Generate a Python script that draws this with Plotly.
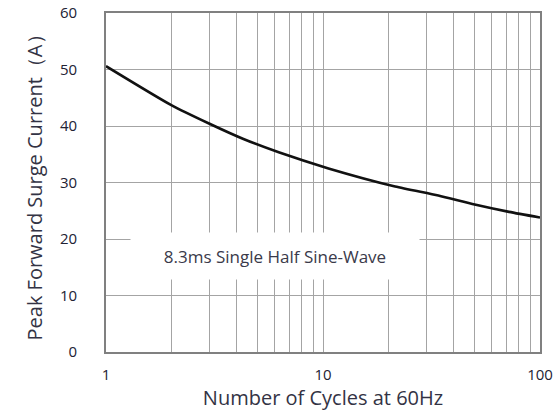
import plotly.graph_objects as go

cycles = [1, 2, 3, 4.3, 6.3, 10.6, 21.5, 34, 50, 72, 100]
current = [50.6, 43.7, 40.4, 37.7, 35.3, 32.5, 29.3, 27.7, 26.1, 24.8, 23.8]

x_grid = [1, 2, 3, 4, 5, 6, 7, 8, 9, 10, 20, 30, 40, 50, 60, 70, 80, 90, 100]
x_labels = ["1", "", "", "", "", "", "", "", "", "10", "", "", "", "", "", "", "", "", "100"]
y_ticks = [0, 10, 20, 30, 40, 50, 60]

fig = go.Figure()
fig.add_trace(go.Scatter(x=cycles, y=current, mode="lines",
                         line=dict(color="#111111", width=2.6, shape="spline", smoothing=0.6),
                         showlegend=False, hoverinfo="skip"))

fig.add_annotation(text="8.3ms Single Half Sine-Wave", xref="paper", yref="paper",
                   x=0.389, y=0.212, showarrow=False, bgcolor="white",
                   width=286, height=44, align="center",
                   font=dict(family="Open Sans", size=17, color="#3a3a4a"))

fig.update_layout(
    width=554, height=415,
    margin=dict(l=106, r=14, t=13, b=63),
    paper_bgcolor="white", plot_bgcolor="white",
    font=dict(family="Open Sans", color="#333333"),
)
fig.update_xaxes(type="log", range=[0, 2], tickvals=x_grid, ticktext=x_labels,
                 showgrid=True, gridcolor="#a4a4a4", gridwidth=1.4,
                 showline=True, linecolor="#808080", linewidth=1.8, mirror=True,
                 ticks="", ticklabelstandoff=8, zeroline=False, automargin=False,
                 tickfont=dict(size=15, color="#222233"),
                 title=dict(text="Number of Cycles at 60Hz", font=dict(size=20, color="#333344"), standoff=2))
fig.update_yaxes(range=[0, 60], tickvals=y_ticks,
                 showgrid=True, gridcolor="#a4a4a4", gridwidth=1.4,
                 showline=True, linecolor="#808080", linewidth=1.8, mirror=True,
                 ticks="", ticklabelstandoff=24, zeroline=False, automargin=False,
                 tickfont=dict(size=15, color="#222233"),
                 title=dict(text="Peak Forward Surge Current（A）", font=dict(size=20, color="#333344"), standoff=12))

fig.write_html("out.html", config={"displayModeBar": False},
               post_script="document.body.style.margin='0';document.body.style.overflow='hidden';")
